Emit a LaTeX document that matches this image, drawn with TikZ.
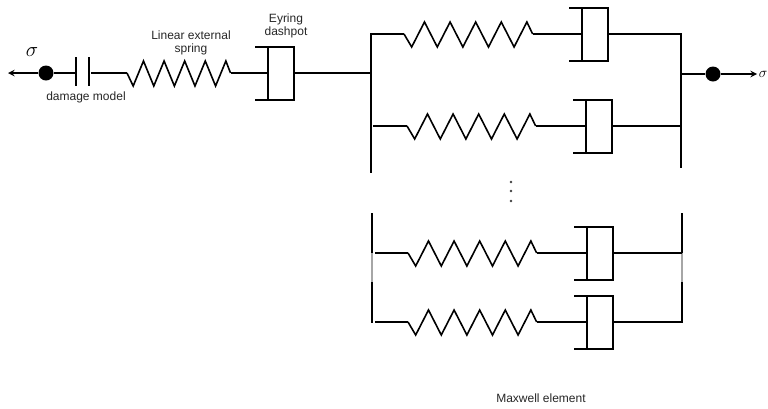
\documentclass[tikz,border=0pt]{standalone}
\usepackage{fontspec}
\setmainfont{Liberation Sans}
\usetikzlibrary{arrows.meta}
\tikzset{
  wire/.style={black,line width=1.9pt,line join=miter},
  coil/.style={black,line width=1.6pt,line join=miter},
  greywire/.style={black!35,line width=1.9pt},
  joint/.style={circle,fill=black,inner sep=0pt,minimum size=15pt},
  lbl/.style={font=\fontsize{12}{13}\selectfont,text=black!85,inner sep=0pt,align=center},
  dotty/.style={circle,fill=black!75,inner sep=0pt,minimum size=2.6pt}
}
% spring: start x, axis y, half period
\newcommand{\spring}[3]{
  \draw[coil] (#1,#2) -- ++(0.6*#3,13)
    \foreach \k in {1,...,4} { -- ++(#3,-25) -- ++(#3,25) }
    -- ++(#3,-25) -- ++(0.45*#3,12);
}
% dashpot: name, left wall x, axis y
\newcommand{\dashpot}[3]{
  \coordinate (#1in) at (#2,#3);
  \coordinate (#1out) at (#2+26,#3);
  \draw[wire] (#2-13,#3-26) -- (#2+26,#3-26) -- (#2+26,#3+27) -- (#2-13,#3+27);
  \draw[wire] (#2,#3-26) -- (#2,#3+27);
}
% one branch: name, wire start, spring start, dashpot x, axis y, bus x
\newcommand{\maxwell}[6]{
  \coordinate (#1a) at (#2,#5);
  \coordinate (#1b) at (#3,#5);
  \coordinate (#1c) at (#3+129,#5);
  \coordinate (#1d) at (#6,#5);
  \spring{#3}{#5}{12.8}
  \dashpot{#1}{#4}{#5}
  \draw[wire] (#1a) -- (#1b);
  \draw[wire] (#1c) -- (#1in);
  \draw[wire] (#1out) -- (#1d);
}
\begin{document}
\begin{tikzpicture}[x=1pt,y=-1pt]
    \useasboundingbox (0,0) rectangle (768,408);
    % input side
    \node[joint] (dotL) at (46,73) {};
    \coordinate (tipL) at (8,73);
    \coordinate (capA) at (76,73);
    \coordinate (capB) at (91,73);
    \coordinate (sprA) at (127,73);
    \coordinate (sprB) at (231,73);
    \coordinate (busIn) at (371,73);
    \draw[wire,->,>=stealth] (dotL) -- (tipL);
    \draw[wire] (dotL) -- (capA);
    \draw[wire] (76,57) -- (76,86);
    \draw[wire] (89,57) -- (89,86);
    \draw[wire] (capB) -- (sprA);
    \spring{127}{73}{10.3}
    \dashpot{ey}{268}{73}
    \draw[wire] (sprB) -- (eyin);
    \draw[wire] (eyout) -- (busIn);
    % bus bars
    \draw[wire] (371,34) -- (371,173);
    \draw[wire] (681,34) -- (681,168);
    \draw[wire] (372,213) -- (372,253);
    \draw[greywire] (372,253) -- (372,282);
    \draw[wire] (372,282) -- (372,323);
    \draw[wire] (682,213) -- (682,253);
    \draw[greywire] (682,253) -- (682,282);
    \draw[wire] (682,282) -- (682,322);
    % branches
    \maxwell{one}{370}{404}{582}{34}{682}
    \maxwell{two}{373}{407}{586}{126}{681}
    \maxwell{three}{375}{408}{587}{253}{682}
    \maxwell{four}{375}{408}{587}{322}{683}
    % output side
    \node[joint] (dotR) at (713,74) {};
    \coordinate (busOut) at (681,74);
    \coordinate (tipR) at (757,74);
    \draw[wire] (busOut) -- (dotR);
    \draw[wire,->,>=stealth] (dotR) -- (tipR);
    % vertical dots
    \node[dotty] (dotA) at (511,182) {};
    \node[dotty] (dotB) at (511,191) {};
    \node[dotty] (dotC) at (511,201) {};
    % labels
    \node[font=\fontsize{20}{20}\selectfont,inner sep=0pt] (sigL) at (32,52) {$\sigma$};
    \node[font=\fontsize{14}{14}\selectfont,inner sep=0pt,anchor=east] (sigR) at (767.5,74) {$\sigma$};
    \node[lbl] (dmg) at (86,97) {damage model};
    \node[lbl] (lin) at (191,43) {Linear external\\spring};
    \node[lbl] (eyr) at (286,26) {Eyring\\dashpot};
    \node[lbl] (mxw) at (541,398) {Maxwell element};
\end{tikzpicture}
\end{document}
